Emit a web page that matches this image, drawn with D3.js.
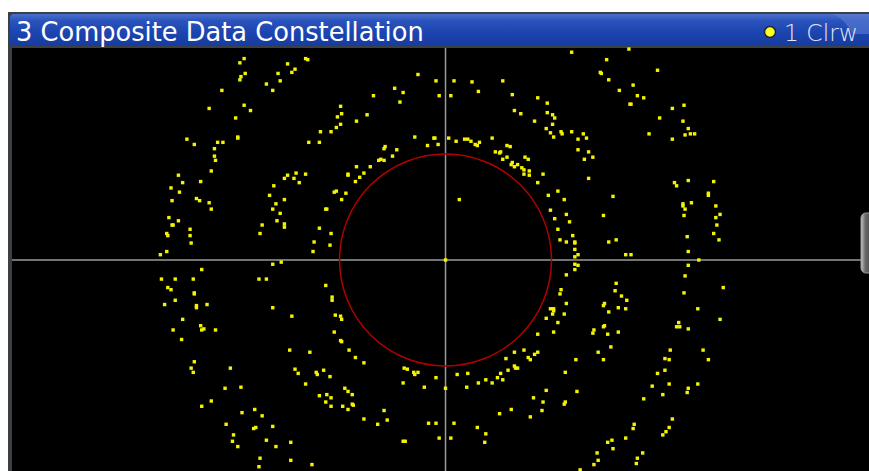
<!DOCTYPE html>
<html>
<head>
<meta charset="utf-8">
<script src="https://cdn.jsdelivr.net/npm/d3@7"></script>
<style>
  html, body { margin: 0; padding: 0; background: #ffffff; }
  svg { display: block; }
</style>
</head>
<body>
<div id="chart"></div>
<script>
// title texts
var titleText = "3 Composite Data Constellation";
var traceLabel = "1 Clrw";

// axis ranges (I / Q, normalised so the reference circle has radius 1)
var iDomain = [-4.09, 4.0];
var qDomain = [2.0, -2.0];
var refRadius = [1];

// measured symbol positions, I component
var symI = [
 -1.90,-1.94,-1.32,-1.30,-1.49,-1.42,-1.45,-1.58,-1.89,-1.93,-1.94,-1.56,-1.69,-1.63,-2.11,-0.26,-0.09,-0.48,-0.40,-0.06,
 -0.68,-0.43,-2.23,-1.90,-1.84,-0.99,-0.98,-1.02,-0.74,-0.84,-1.98,-0.99,-1.03,-1.08,-1.18,-0.29,-0.11,-0.10,0.03,-0.17,
 -0.07,-1.96,-1.96,-2.44,-2.37,-2.15,-2.10,-1.29,-1.19,-2.18,-0.58,-0.57,-0.46,-0.50,-2.18,-2.17,-0.63,-0.61,-0.58,-2.21,
 -0.84,-0.71,-0.92,-0.92,-0.77,-0.81,-0.85,-1.41,-1.49,-1.32,-1.52,-1.43,-1.38,-2.52,-2.48,-2.31,-2.59,-2.51,-1.62,-1.66,
 -1.05,-1.03,-0.94,-0.98,-2.35,-2.32,-2.23,-2.21,-2.58,-1.60,-1.52,-1.63,-1.56,-1.13,-1.12,-2.61,-2.52,-2.58,-2.57,-1.59,
 -1.52,-1.52,-1.73,-2.41,-1.19,-2.63,-2.62,-2.41,-1.75,-1.08,-1.24,-2.40,-1.09,-1.25,-2.63,-2.69,
 1.19,1.73,1.52,1.46,1.47,2.00,1.54,1.77,1.64,1.81,1.87,1.74,1.75,2.14,2.25,2.02,2.24,2.29,2.26,2.31,
 2.35,2.14,1.92,0.08,0.25,0.54,0.31,0.05,0.63,0.87,0.65,0.71,0.96,0.96,1.01,1.03,0.84,1.01,0.95,0.99,
 1.02,1.09,1.10,1.19,1.30,1.25,1.33,1.25,1.35,1.31,1.39,1.35,0.10,0.18,0.21,0.24,0.28,0.30,0.32,0.44,
 0.47,0.51,0.52,0.58,0.61,0.54,0.58,0.62,0.63,0.65,0.68,0.75,0.78,0.72,0.74,0.74,0.79,0.79,0.92,0.87,
 0.13,0.97,1.06,1.12,0.99,1.03,1.14,1.17,1.06,1.08,1.14,1.20,1.22,1.22,1.22,1.22,1.25,1.58,1.49,1.54,
 1.61,1.70,1.75,2.16,2.18,2.29,2.53,2.48,2.48,2.24,2.24,2.32,2.26,2.25,2.55,2.59,2.55,2.56,2.28,2.53,
 2.58,2.29,
 0.00,-2.30,-2.68,-2.55,-2.38,-1.63,-1.55,-1.76,-1.69,-2.62,-2.59,-2.37,-2.37,-2.55,-2.65,-2.35,-2.35,-2.25,-2.48,-2.31,
 -2.30,-2.28,-2.17,-2.57,-2.49,-1.13,-1.07,-1.07,-1.63,-1.45,-1.04,-0.99,-0.98,-1.05,-0.99,-0.98,-0.91,-0.85,-0.77,-1.47,
 -1.28,-2.37,-2.40,-2.38,-2.03,-1.42,-1.39,-1.22,-1.21,-1.15,-1.09,-1.32,-0.39,-0.36,-0.30,-0.29,-0.26,-0.09,-0.40,-0.20,
 0.00,-2.08,-1.93,-2.21,-2.30,-0.95,-0.92,-0.88,-1.19,-1.12,-1.08,-1.13,-1.08,-0.97,-0.92,-0.88,-0.87,-0.77,-0.64,-0.58,
 -0.55,-1.92,-1.80,-1.73,-2.07,-1.81,-1.79,-1.63,-2.00,-2.01,-1.96,-1.69,-1.60,-1.46,-1.75,-1.76,-1.46,-1.26,-0.40,-0.38,
 -0.16,-0.09,-0.06,0.05,
 2.39,1.22,1.25,1.22,1.14,2.29,2.26,2.62,2.25,1.61,1.60,1.66,1.71,1.09,1.08,1.14,0.99,1.02,1.02,1.01,
 1.12,0.95,1.06,1.02,0.87,1.50,1.49,1.63,1.70,1.54,1.40,1.39,1.50,1.49,1.53,1.63,1.56,1.44,1.49,1.23,
 1.13,2.38,2.59,2.18,2.21,2.20,2.29,2.12,2.07,2.11,2.07,2.00,1.95,2.11,2.05,2.43,2.48,2.38,2.29,2.28,
 1.87,2.14,2.11,2.08,2.05,1.78,1.77,1.70,1.57,1.53,1.58,1.86,1.81,1.80,1.43,1.44,1.40,1.27,0.74,0.65,
 0.78,0.80,0.84,0.87,0.57,0.65,0.68,0.66,0.59,0.52,0.49,0.54,0.44,0.38,0.31,0.21,0.11,0.20,0.95,1.24,
 0.83,0.92,1.12,1.13,0.91,0.62,0.51,0.80,0.08,0.30,0.38,0.37
];

// measured symbol positions, Q component
var symQ = [
 1.90,1.86,1.90,1.89,1.85,1.80,1.77,1.76,1.76,1.73,1.70,1.69,1.66,1.60,1.60,1.75,1.69,1.62,1.58,1.55,
 1.55,1.49,1.43,1.46,1.41,1.45,1.38,1.35,1.37,1.31,1.34,1.28,1.25,1.21,1.21,1.16,1.15,1.15,1.15,1.08,
 1.09,1.16,1.15,1.14,1.09,1.11,1.11,1.11,1.11,1.05,1.05,1.07,1.04,0.98,0.98,0.94,0.94,0.95,0.94,0.84,
 0.88,0.88,0.81,0.80,0.82,0.78,0.74,0.82,0.80,0.81,0.77,0.77,0.73,0.80,0.73,0.74,0.68,0.64,0.70,0.61,
 0.64,0.65,0.63,0.57,0.58,0.56,0.54,0.48,0.56,0.53,0.57,0.48,0.44,0.48,0.48,0.40,0.37,0.33,0.33,0.37,
 0.34,0.31,0.33,0.29,0.30,0.25,0.23,0.23,0.25,0.25,0.17,0.16,0.14,0.08,0.08,0.05,
 1.96,1.99,1.89,1.77,1.76,1.79,1.70,1.65,1.60,1.55,1.53,1.47,1.47,1.43,1.46,1.34,1.31,1.24,1.18,1.19,
 1.19,1.14,1.19,1.69,1.68,1.69,1.59,1.55,1.56,1.53,1.41,1.38,1.48,1.39,1.37,1.34,1.31,1.28,1.24,1.20,
 1.16,1.21,1.19,1.21,1.19,1.14,1.15,1.04,1.02,0.95,0.97,0.77,1.12,1.14,1.14,1.12,1.09,1.08,1.11,1.15,
 1.02,1.01,1.02,1.08,1.07,0.95,0.97,0.90,0.92,0.88,0.90,0.97,0.95,0.87,0.85,0.81,0.84,0.80,0.81,0.73,
 0.57,0.61,0.65,0.57,0.47,0.39,0.43,0.36,0.29,0.19,0.17,0.23,0.17,0.16,0.10,0.03,0.05,0.60,0.42,0.17,
 0.19,0.05,0.05,0.73,0.70,0.75,0.74,0.63,0.61,0.53,0.51,0.54,0.48,0.42,0.51,0.43,0.40,0.33,0.22,0.25,
 0.19,0.08,
 0.00,-0.09,-0.18,-0.18,-0.18,-0.04,-0.02,-0.18,-0.18,-0.26,-0.28,-0.31,-0.32,-0.38,-0.42,-0.43,-0.45,-0.42,-0.56,-0.62,
 -0.66,-0.65,-0.66,-0.66,-0.75,-0.24,-0.35,-0.38,-0.45,-0.53,-0.52,-0.53,-0.56,-0.68,-0.76,-0.77,-0.85,-0.92,-0.97,-0.85,
 -0.87,-0.96,-1.02,-1.06,-1.02,-1.03,-1.07,-1.06,-1.08,-1.04,-1.10,-1.17,-1.02,-1.03,-1.06,-1.08,-1.06,-1.11,-1.16,-1.20,
 -1.21,-1.21,-1.20,-1.33,-1.38,-1.21,-1.24,-1.27,-1.28,-1.27,-1.30,-1.34,-1.38,-1.38,-1.41,-1.36,-1.37,-1.50,-1.55,-1.42,
 -1.51,-1.44,-1.41,-1.47,-1.55,-1.59,-1.58,-1.57,-1.65,-1.71,-1.76,-1.70,-1.76,-1.72,-1.87,-1.95,-1.89,-1.93,-1.71,-1.71,
 -1.54,-1.54,-1.68,-1.68,
 0.00,-0.04,-0.05,-0.09,-0.14,-0.05,-0.15,-0.26,-0.31,-0.22,-0.29,-0.34,-0.38,-0.28,-0.32,-0.41,-0.46,-0.46,-0.48,-0.51,
 -0.51,-0.55,-0.59,-0.68,-0.70,-0.41,-0.43,-0.45,-0.46,-0.49,-0.66,-0.69,-0.62,-0.63,-0.70,-0.68,-0.82,-0.87,-0.94,-0.94,
 -1.06,-0.46,-0.56,-0.63,-0.63,-0.59,-0.65,-0.85,-0.93,-0.94,-1.04,-1.07,-1.19,-1.17,-1.27,-0.85,-0.94,-1.17,-1.21,-1.25,
 -1.31,-1.50,-1.58,-1.62,-1.65,-1.55,-1.59,-1.68,-1.70,-1.72,-1.78,-1.82,-1.87,-1.92,-1.82,-1.89,-1.93,-1.98,-0.85,-0.87,
 -0.92,-0.94,-0.89,-0.87,-0.93,-1.00,-1.02,-1.02,-1.04,-1.07,-1.11,-1.13,-1.16,-1.13,-1.16,-1.07,-1.08,-1.20,-1.23,-1.24,
 -1.30,-1.34,-1.36,-1.34,-1.42,-1.41,-1.45,-1.48,-1.54,-1.58,-1.64,-1.72
];

var width = 869, height = 471;
var plot = {left: 12, right: 869.5, top: 48, bottom: 472};

var svg = d3.select("#chart").append("svg")
    .attr("width", width)
    .attr("height", height);

var defs = svg.append("defs");
var titleGrad = defs.append("linearGradient")
    .attr("id", "titleGrad").attr("x1", 0).attr("y1", 0).attr("x2", 0).attr("y2", 1);
titleGrad.append("stop").attr("offset", "0%").attr("stop-color", "#4a70cc");
titleGrad.append("stop").attr("offset", "22%").attr("stop-color", "#2a52bc");
titleGrad.append("stop").attr("offset", "60%").attr("stop-color", "#1c44b0");
titleGrad.append("stop").attr("offset", "100%").attr("stop-color", "#173c9e");

var tabGrad = defs.append("linearGradient")
    .attr("id", "tabGrad").attr("x1", 0).attr("y1", 0).attr("x2", 1).attr("y2", 0);
tabGrad.append("stop").attr("offset", "0%").attr("stop-color", "#c8c8c8");
tabGrad.append("stop").attr("offset", "30%").attr("stop-color", "#6a6a6a");
tabGrad.append("stop").attr("offset", "100%").attr("stop-color", "#3a3a3a");

// window frame
svg.append("rect")
    .attr("x", 8).attr("y", 12)
    .attr("width", width - 8).attr("height", height - 12)
    .attr("fill", "#3b4044");

// title bar
svg.append("path")
    .attr("d", "M10,46 L10,18 Q10,14 14,14 L869,14 L869,46 Z")
    .attr("fill", "url(#titleGrad)");

// lighter tab at top right of the title bar
svg.append("path")
    .attr("d", "M833,14 L869,14 L869,34 L852,34 Q846,20 833,14 Z")
    .attr("fill", "#5f82d4").attr("opacity", 0.55);

svg.append("text")
    .attr("class", "title")
    .attr("x", 16).attr("y", 40.5)
    .attr("fill", "#ffffff")
    .style("font-family", "'DejaVu Sans', Verdana, sans-serif")
    .style("font-size", "23px")
    .text(titleText);

// fit title width to the reference
var tNode = svg.select("text.title").node();
var tw = tNode.getComputedTextLength();
if (tw > 0) svg.select("text.title").style("font-size", (23 * 408 / tw) + "px");

svg.append("circle")
    .attr("cx", 770).attr("cy", 32).attr("r", 5.5)
    .attr("fill", "#ffff20")
    .attr("stroke", "#20263a").attr("stroke-width", 1.5);

svg.append("text")
    .attr("class", "trace")
    .attr("x", 784).attr("y", 40.5)
    .attr("fill", "#e4e8f4")
    .style("font-family", "'DejaVu Sans', Verdana, sans-serif")
    .style("font-weight", 300)
    .style("font-size", "22px")
    .text(traceLabel);

var trNode = svg.select("text.trace").node();
var trw = trNode.getComputedTextLength();
if (trw > 0) svg.select("text.trace").style("font-size", (22 * 74 / trw) + "px");

// plot area
svg.append("rect")
    .attr("x", plot.left).attr("y", plot.top)
    .attr("width", width - plot.left).attr("height", height - plot.top)
    .attr("fill", "#000000");

var x = d3.scaleLinear().domain(iDomain).range([plot.left, plot.right]);
var y = d3.scaleLinear().domain(qDomain).range([plot.top, plot.bottom]);

var g = svg.append("g");

// crosshair through the origin
g.append("line")
    .attr("x1", plot.left).attr("x2", width)
    .attr("y1", y(0)).attr("y2", y(0))
    .attr("stroke", "#9a9a9a").attr("stroke-width", 1.5);
g.append("line")
    .attr("x1", x(0)).attr("x2", x(0))
    .attr("y1", plot.top).attr("y2", height)
    .attr("stroke", "#9a9a9a").attr("stroke-width", 1.5);

// reference circle
g.selectAll("circle.ref")
    .data(refRadius)
    .enter().append("circle")
    .attr("class", "ref")
    .attr("cx", x(0)).attr("cy", y(0))
    .attr("r", function (d) { return x(d) - x(0); })
    .attr("fill", "none")
    .attr("stroke", "#b00000").attr("stroke-width", 1.5);

// symbols
var pts = symI.map(function (d, i) { return {i: d, q: symQ[i]}; });
var dot = 3.4;
g.selectAll("rect.sym")
    .data(pts)
    .enter().append("rect")
    .attr("class", "sym")
    .attr("x", function (d) { return x(d.i) - dot / 2; })
    .attr("y", function (d) { return y(d.q) - dot / 2; })
    .attr("width", dot).attr("height", dot)
    .attr("fill", "#f4f400");

// scroll tab on the right edge
svg.append("rect")
    .attr("x", 861).attr("y", 213)
    .attr("width", 14).attr("height", 60)
    .attr("rx", 5)
    .attr("fill", "url(#tabGrad)")
    .attr("stroke", "#9a9a9a").attr("stroke-width", 1);
</script>
</body>
</html>
